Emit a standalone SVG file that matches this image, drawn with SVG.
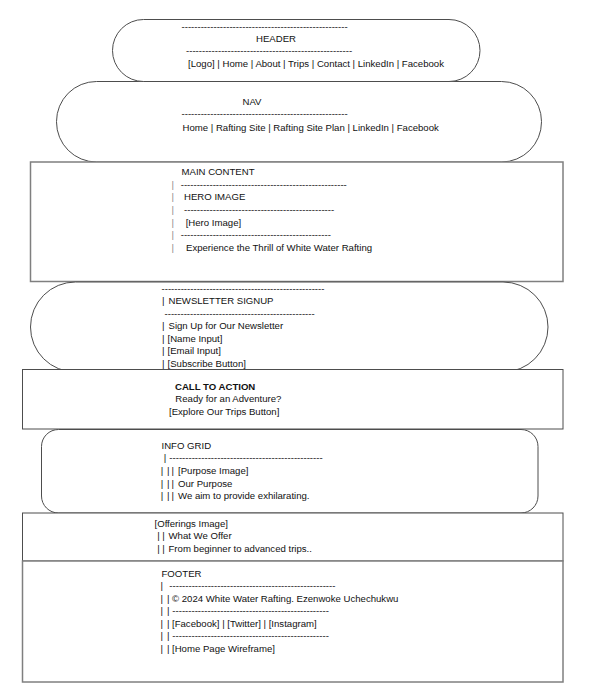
<svg xmlns="http://www.w3.org/2000/svg" width="600" height="691" viewBox="0 0 600 691">
<style>
.t{font-family:"Liberation Sans",Arial,sans-serif;font-size:9.6px;fill:#111}
.b{font-weight:bold}
.g{fill:#8a8a8a}
.s{fill:#fff;stroke:#4d4d4d;stroke-width:1}
.s2{fill:#fff;stroke:#7f7f7f;stroke-width:1.5}
</style>
<rect width="600" height="691" fill="#fff"/>
<g id="nav">
<rect class="s" x="56.5" y="81.5" width="485" height="80.5" rx="40" ry="40"/>
<text class="t" x="242.5" y="104.5">NAV</text>
<text class="t" x="181.5" y="117">----------------------------------------------------</text>
<text class="t" x="182.5" y="131">Home | Rafting Site | Rafting Site Plan | LinkedIn | Facebook</text>
</g>
<g id="header">
<rect class="s" x="112.5" y="19.5" width="367.5" height="62" rx="31" ry="31"/>
<text class="t" x="181.5" y="29.5">----------------------------------------------------</text>
<text class="t" x="256" y="41.8">HEADER</text>
<text class="t" x="186" y="54.3">----------------------------------------------------</text>
<text class="t" x="188" y="67.3">[Logo] | Home | About | Trips | Contact | LinkedIn | Facebook</text>
</g>
<g id="main-content">
<rect class="s2" x="30.5" y="162" width="532.5" height="119.5"/>
<text class="t" x="181.5" y="174.6">MAIN CONTENT</text>
<text class="t" y="187.7"><tspan class="g" x="171.5">|</tspan> <tspan x="180.7">----------------------------------------------------</tspan></text>
<text class="t" y="200.4"><tspan class="g" x="171.5">|</tspan> <tspan x="184">HERO IMAGE</tspan></text>
<text class="t" y="213.1"><tspan class="g" x="171.5">|</tspan> <tspan x="184">-----------------------------------------------</tspan></text>
<text class="t" y="225.6"><tspan class="g" x="171.5">|</tspan> <tspan x="185.7">[Hero Image]</tspan></text>
<text class="t" y="238.3"><tspan class="g" x="171.5">|</tspan> <tspan x="180.7">-----------------------------------------------</tspan></text>
<text class="t" y="251.2"><tspan class="g" x="171.5">|</tspan> <tspan x="186">Experience the Thrill of White Water Rafting</tspan></text>
</g>
<g id="newsletter-signup">
<rect class="s" x="30.5" y="282" width="517.5" height="90" rx="45" ry="45"/>
<text class="t" x="161.5" y="291.5">---------------------------------------------------</text>
<text class="t" y="304"><tspan x="162.1">|</tspan> <tspan x="168.5">NEWSLETTER SIGNUP</tspan></text>
<text class="t" x="164.5" y="316.5">-----------------------------------------------</text>
<text class="t" y="329"><tspan x="162.1">|</tspan> <tspan x="168.5">Sign Up for Our Newsletter</tspan></text>
<text class="t" y="341.5"><tspan x="162.1">|</tspan> <tspan x="167.5">[Name Input]</tspan></text>
<text class="t" y="354"><tspan x="162.1">|</tspan> <tspan x="167.5">[Email Input]</tspan></text>
<text class="t" y="366.5"><tspan x="162.1">|</tspan> <tspan x="167.5">[Subscribe Button]</tspan></text>
</g>
<g id="call-to-action">
<rect class="s" x="22.5" y="369.5" width="540.5" height="59.5"/>
<text class="t b" x="175" y="389.5">CALL TO ACTION</text>
<text class="t" x="175.3" y="402.2">Ready for an Adventure?</text>
<text class="t" x="169" y="414.9">[Explore Our Trips Button]</text>
</g>
<g id="info-grid">
<rect class="s" x="41.5" y="429.5" width="496.5" height="83.5" rx="17" ry="17"/>
<text class="t" x="161.5" y="448.5">INFO GRID</text>
<text class="t" y="461.2"><tspan x="163.8">|</tspan> <tspan x="169.3">------------------------------------------------</tspan></text>
<text class="t" y="473.9"><tspan x="160.8">|</tspan> <tspan x="167">|</tspan> <tspan x="171.5">|</tspan> <tspan x="178">[Purpose Image]</tspan></text>
<text class="t" y="486.6"><tspan x="160.8">|</tspan> <tspan x="167">|</tspan> <tspan x="171.5">|</tspan> <tspan x="178">Our Purpose</tspan></text>
<text class="t" y="499.3"><tspan x="160.8">|</tspan> <tspan x="167">|</tspan> <tspan x="171.5">|</tspan> <tspan x="178">We aim to provide exhilarating.</tspan></text>
</g>
<g id="offerings">
<rect class="s" x="22.5" y="513" width="540.5" height="48"/>
<text class="t" x="154.5" y="526.5">[Offerings Image]</text>
<text class="t" y="539.4"><tspan x="157.2">|</tspan> <tspan x="162.2">|</tspan> <tspan x="168.5">What We Offer</tspan></text>
<text class="t" y="552.3"><tspan x="157.2">|</tspan> <tspan x="162.2">|</tspan> <tspan x="168.5">From beginner to advanced trips..</tspan></text>
</g>
<g id="footer">
<rect class="s2" x="22.5" y="561" width="540.5" height="121"/>
<text class="t" x="161.5" y="576.5">FOOTER</text>
<text class="t" y="588.5"><tspan x="160.5">|</tspan> <tspan x="169.3">----------------------------------------------------</tspan></text>
<text class="t" y="601.5"><tspan x="160.5">|</tspan> <tspan x="167.1">|</tspan> <tspan x="172">© 2024 White Water Rafting. Ezenwoke Uchechukwu</tspan></text>
<text class="t" y="613.8"><tspan x="160.5">|</tspan> <tspan x="167.1">|</tspan> <tspan x="172.3">-------------------------------------------------</tspan></text>
<text class="t" y="626.5"><tspan x="160.5">|</tspan> <tspan x="167.1">|</tspan> <tspan x="172">[Facebook] | [Twitter] | [Instagram]</tspan></text>
<text class="t" y="639.2"><tspan x="160.5">|</tspan> <tspan x="167.1">|</tspan> <tspan x="172.3">-------------------------------------------------</tspan></text>
<text class="t" y="651.8"><tspan x="160.5">|</tspan> <tspan x="167.1">|</tspan> <tspan x="172">[Home Page Wireframe]</tspan></text>
</g>
<g id="connectors"/>
</svg>
